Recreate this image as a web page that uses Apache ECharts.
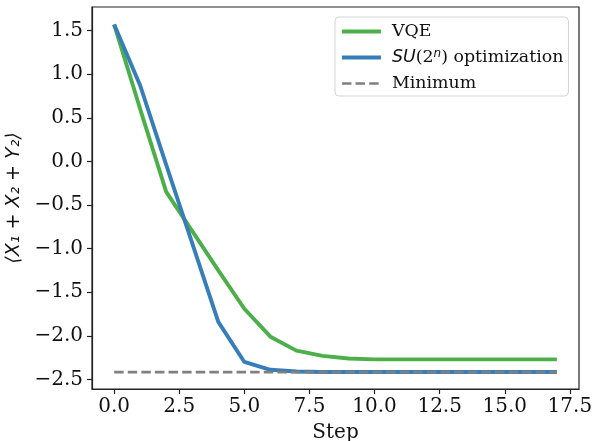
<!DOCTYPE html>
<html>
<head>
<meta charset="utf-8">
<script src="https://cdn.jsdelivr.net/npm/echarts@6/dist/echarts.min.js"></script>
<style>html,body{margin:0;padding:0;background:#fff}#c{width:595px;height:441px}</style>
</head>
<body>
<div id="c"></div>
<script>
var steps = [0,1,2,3,4,5,6,7,8,9,10,11,12,13,14,15,16,17];
var vqe = [1.57,0.60,-0.35,-0.80,-1.25,-1.69,-2.01,-2.17,-2.23,-2.26,-2.27,-2.27,-2.27,-2.27,-2.27,-2.27,-2.27,-2.27];
var su = [1.57,0.87,-0.04,-0.94,-1.84,-2.30,-2.39,-2.41,-2.415,-2.415,-2.415,-2.415,-2.415,-2.415,-2.415,-2.415,-2.415,-2.415];
var minimumValue = -2.416;
var xTicks = [0,2.5,5,7.5,10,12.5,15,17.5];
var yTicks = [-2.5,-2,-1.5,-1,-0.5,0,0.5,1,1.5];
var seriesNames = ['VQE','SU(2ⁿ) optimization','Minimum'];

function pairs(xs, ys){ return xs.map(function(x,i){return [x, ys[i]];}); }
var minLine = [[steps[0], minimumValue],[steps[steps.length-1], minimumValue]];
function fmt(v){ return v.toFixed(1).replace('-', '\u2212'); }

var serif = 'DejaVu Serif';
var chart = echarts.init(document.getElementById('c'), null, {renderer:'canvas'});
chart.setOption({
  animation:false,
  backgroundColor:'#fff',
  grid:{left:92,right:16,top:7,bottom:52,containLabel:false,outerBoundsMode:'none',show:true,borderColor:'#222',borderWidth:1.2,backgroundColor:'transparent'},
  xAxis:{
    type:'value', min:-0.85, max:17.85,
    name:'Step', nameLocation:'middle', nameGap:34,
    nameTextStyle:{fontFamily:serif,fontSize:20,color:'#111'},
    axisLine:{show:true,onZero:false,lineStyle:{color:'#222',width:1.2}},
    axisTick:{show:true,length:5,lineStyle:{color:'#222',width:1.2},customValues:xTicks},
    axisLabel:{fontFamily:serif,fontSize:20,color:'#111',margin:8,customValues:xTicks,formatter:fmt},
    splitLine:{show:false}
  },
  yAxis:{
    type:'value', min:-2.61, max:1.77,
    name:'\u27E8X\u2081 + X\u2082 + Y\u2082\u27E9', nameLocation:'middle', nameGap:66,
    nameTextStyle:{fontFamily:'DejaVu Sans',fontStyle:'italic',fontSize:19,color:'#111'},
    axisLine:{show:true,onZero:false,lineStyle:{color:'#222',width:1.2}},
    axisTick:{show:true,length:5,lineStyle:{color:'#222',width:1.2},customValues:yTicks},
    axisLabel:{fontFamily:serif,fontSize:20,color:'#111',margin:9,customValues:yTicks,formatter:fmt},
    splitLine:{show:false}
  },
  legend:{
    orient:'vertical', left:335, top:17,
    padding:[6,5,4,5], itemGap:7.5, itemWidth:39, itemHeight:14,
    borderColor:'#d4d4d4', borderWidth:1, borderRadius:4, backgroundColor:'rgba(255,255,255,0.85)',
    itemStyle:{opacity:0},
    data:[
      {name:seriesNames[0], lineStyle:{width:3.9}},
      {name:seriesNames[1], lineStyle:{width:3.9}},
      {name:seriesNames[2], lineStyle:{width:2.6}}
    ],
    formatter:function(n){
      if(n===seriesNames[1]) return '{it|SU}{t|(2}{sup|n}{t|) optimization}';
      return '{t|'+n+'}';
    },
    textStyle:{
      padding:[0,0,0,6],
      rich:{
        t:{fontFamily:serif,fontSize:17.4,color:'#111',lineHeight:20},
        it:{fontFamily:'DejaVu Sans',fontStyle:'italic',fontSize:17.4,color:'#111',lineHeight:20},
        sup:{fontFamily:'DejaVu Sans',fontStyle:'italic',fontSize:12,color:'#111',lineHeight:20,verticalAlign:'top',padding:[0,0,8,0]}
      }
    }
  },
  series:[
    {name:seriesNames[0],type:'line',data:pairs(steps,vqe),symbol:'none',color:'#4daf4a',lineStyle:{width:3.9,color:'#4daf4a'},z:2},
    {name:seriesNames[1],type:'line',data:pairs(steps,su),symbol:'none',color:'#377eb8',lineStyle:{width:3.9,color:'#377eb8'},z:3},
    {name:seriesNames[2],type:'line',data:minLine,symbol:'none',color:'#808080',lineStyle:{width:2.6,color:'#808080',type:[9.5,4.1]},z:4}
  ]
});
</script>
</body>
</html>
